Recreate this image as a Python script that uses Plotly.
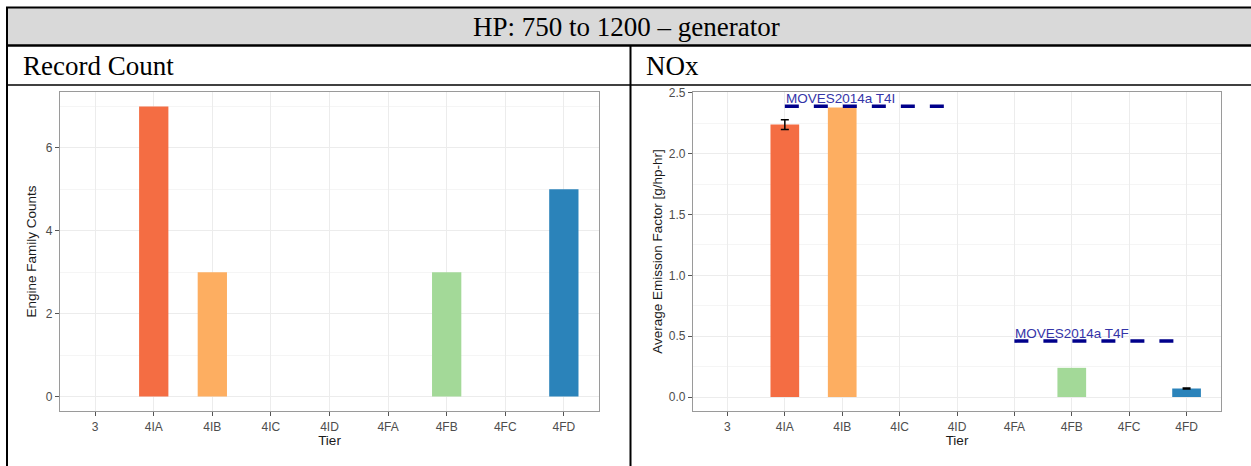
import plotly.graph_objects as go

W, H = 1251, 466

# ---------------- data ----------------
tiers = ["3", "4IA", "4IB", "4IC", "4ID", "4FA", "4FB", "4FC", "4FD"]
tier_colors = {"4IA": "#f46d43", "4IB": "#fdae61", "4FB": "#a3d998", "4FD": "#2b83ba"}

count_tiers = ["4IA", "4IB", "4FB", "4FD"]
count_values = [7, 3, 3, 5]

nox_tiers = ["4IA", "4IB", "4FB", "4FD"]
nox_values = [2.24, 2.38, 0.24, 0.07]
nox_errors = [0.04, None, None, 0.004]

moves_labels = ["MOVES2014a T4I", "MOVES2014a T4F"]
moves_values = [2.39, 0.46]
moves_start = ["4IA", "4FA"]
moves_end = ["4ID", "4FD"]

count_ticks = [0, 2, 4, 6]
nox_ticks = [0.0, 0.5, 1.0, 1.5, 2.0, 2.5]

title_text = "HP: 750 to 1200 \u2013 generator"
left_header = "Record Count"
right_header = "NOx"


def px(x):
    return x / W


def py(y):
    return 1 - y / H


SANS = "Liberation Sans, Arial, sans-serif"
SERIF = "Liberation Serif, Times New Roman, serif"

fig = go.Figure()

# Record count bars
for t, v in zip(count_tiers, count_values):
    fig.add_trace(go.Bar(x=[t], y=[v], width=0.5, marker=dict(color=tier_colors[t], line=dict(width=0)),
                         xaxis="x", yaxis="y", showlegend=False))

# NOx bars
for t, v, e in zip(nox_tiers, nox_values, nox_errors):
    err = dict(type="data", array=[e], color="black", thickness=1.5, width=4) if e is not None else dict(visible=False)
    fig.add_trace(go.Bar(x=[t], y=[v], width=0.5, marker=dict(color=tier_colors[t], line=dict(width=0)),
                         error_y=err, xaxis="x2", yaxis="y2", showlegend=False))

# MOVES reference lines
for lab, v, s, e in zip(moves_labels, moves_values, moves_start, moves_end):
    fig.add_trace(go.Scatter(x=[s, e], y=[v, v], mode="lines",
                             line=dict(color="#00008b", width=3.5, dash="14px,15px"),
                             xaxis="x2", yaxis="y2", showlegend=False, hoverinfo="skip"))
    fig.add_annotation(x=s, y=v, xref="x2", yref="y2", text=lab, showarrow=False,
                       xanchor="left", yanchor="middle", yshift=8, xshift=-1,
                       font=dict(family=SANS, size=13.5, color="#3434a8"))

axis_font = dict(family=SANS, size=12, color="#4d4d4d")
title_font = dict(family=SANS, size=13.5, color="#1a1a1a")


def xaxis(domain):
    return dict(domain=domain, type="category", categoryorder="array", categoryarray=tiers,
                range=[-0.6, 8.6], showgrid=True, gridcolor="#ececec", gridwidth=1,
                ticks="outside", ticklen=4, tickcolor="#555555", tickwidth=1,
                showline=True, linecolor="#9a9a9a", linewidth=1.2, mirror=True,
                tickfont=axis_font, zeroline=False, automargin=False,
                title=dict(text="Tier", font=title_font, standoff=2))


def yaxis(domain, rng, ticks, fmt, minor_vals, title, standoff, xanchor):
    return dict(domain=domain, anchor=xanchor, range=rng, tickvals=ticks, tickformat=fmt,
                showgrid=True, gridcolor="#ececec", gridwidth=1,
                minor=dict(tickvals=minor_vals, showgrid=True, gridcolor="#f5f5f5", gridwidth=0.6, ticks=""),
                ticks="outside", ticklen=4, tickcolor="#555555", tickwidth=1,
                showline=True, linecolor="#9a9a9a", linewidth=1.2, mirror=True,
                tickfont=axis_font, zeroline=False, automargin=False,
                title=dict(text=title, font=title_font, standoff=standoff))


ydom = [py(411), py(92)]
fig.update_layout(
    width=W, height=H, margin=dict(l=0, r=0, t=0, b=0),
    paper_bgcolor="white", plot_bgcolor="white", barmode="overlay",
    xaxis=xaxis([px(60), px(599)]),
    yaxis=yaxis(ydom, [-0.35, 7.35], count_ticks, "d", [1, 3, 5, 7], "Engine Family Counts", 6, "x"),
    xaxis2=dict(xaxis([px(693), px(1221)]), anchor="y2"),
    yaxis2=yaxis(ydom, [-0.115, 2.508], nox_ticks, ".1f",
                 [0.25, 0.75, 1.25, 1.75, 2.25], "Average Emission Factor [g/hp-hr]", 3, "x2"),
)
fig.layout.xaxis.anchor = "y"

# ---------------- table frame ----------------
shapes = []
shapes.append(dict(type="rect", xref="paper", yref="paper", x0=px(7), x1=1.0, y0=py(45), y1=py(8),
                   fillcolor="#d9d9d9", line=dict(width=0), layer="below"))
lines = [
    (6, 7.5, W, 7.5, 2),      # top border
    (6, 45.5, W, 45.5, 2.5),  # below title row
    (6, 85, W, 85, 1.5),      # below header row
    (7, 7, 7, H, 2),          # left border
    (630.5, 45, 630.5, H, 2),  # middle divider
]
for x0, y0, x1, y1, w in lines:
    shapes.append(dict(type="line", xref="paper", yref="paper", x0=px(x0), x1=px(x1), y0=py(y0), y1=py(y1),
                       line=dict(color="black", width=w), layer="above"))
fig.update_layout(shapes=shapes)

fig.add_annotation(x=px(626), y=py(27), xref="paper", yref="paper", text=title_text, showarrow=False,
                   xanchor="center", yanchor="middle", font=dict(family=SERIF, size=27, color="black"))
fig.add_annotation(x=px(21), y=py(66), xref="paper", yref="paper", text=left_header, showarrow=False,
                   xanchor="left", yanchor="middle", font=dict(family=SERIF, size=27, color="black"))
fig.add_annotation(x=px(644), y=py(66), xref="paper", yref="paper", text=right_header, showarrow=False,
                   xanchor="left", yanchor="middle", font=dict(family=SERIF, size=27, color="black"))

fig.write_html("out.html")
